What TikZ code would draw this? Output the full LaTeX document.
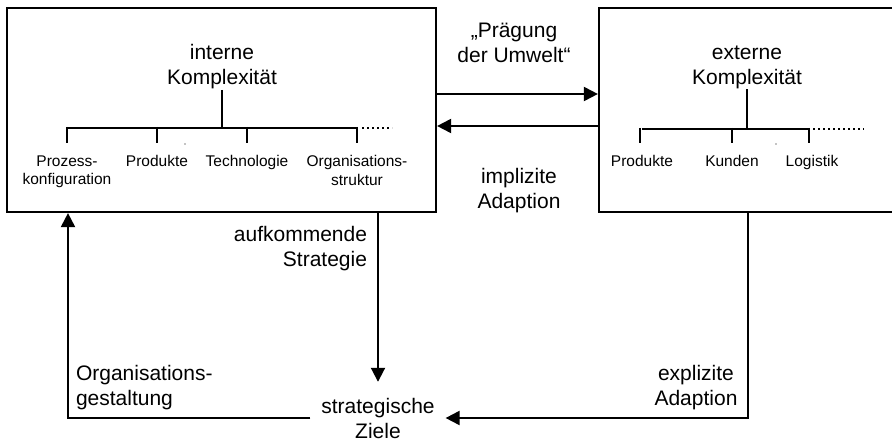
\documentclass[tikz,border=0pt]{standalone}
\usepackage{fontspec}
\setmainfont{Liberation Sans}
\usetikzlibrary{arrows.meta}

\begin{document}
\begin{tikzpicture}[x=1pt, y=-1pt,
  line width=2pt,
  bigtxt/.style={font=\fontsize{21}{25}\selectfont, inner sep=0pt, align=center},
  smalltxt/.style={font=\fontsize{15.5}{18.5}\selectfont, inner sep=0pt, align=center},
  box/.style={draw, line width=2.2pt, inner sep=0pt, minimum height=204pt},
  arr/.style={-{Triangle[length=14pt, width=14pt]}},
  tree/.style={line width=2pt},
  dots/.style={line width=2pt, dash pattern=on 2pt off 3pt},
]
\useasboundingbox (0,0) rectangle (892,441);

% the two boxes (the right one runs past the page edge)
\node[box, minimum width=429pt] (int) at (221.5,110) {};
\node[box, minimum width=302pt] (ext) at (750,110) {};

% headings
\node[bigtxt] (intl) at (222,66.5) {interne\\Komplexität};
\node[bigtxt] (extl) at (747,67) {externe\\Komplexität};

% internal components
\node[smalltxt] (proz) at (67,172) {Prozess-\\konfiguration};
\node[smalltxt, anchor=base] (prodi) at (157,167) {Produkte};
\node[smalltxt, anchor=base] (tech) at (247,167) {Technologie};
\node[smalltxt] (orgs) at (357,170.5) {Organisations-\\struktur};

% external components
\node[smalltxt, anchor=base] (prode) at (642,167) {Produkte};
\node[smalltxt, anchor=base] (kund) at (732,167) {Kunden};
\node[smalltxt, anchor=base] (logi) at (812,167) {Logistik};

% tree of the internal complexity
\draw[tree] (intl.south) -- (intl.south |- 0,128);
\draw[tree] (proz.north |- 0,128) -- (orgs.north |- 0,128);
\foreach \n in {proz, prodi, tech, orgs}
  \draw[tree] (\n.north |- 0,127) -- (\n.north |- 0,143);
\draw[dots] (362,128) -- (392,128);
\fill (185,144) circle (0.6pt);

% tree of the external complexity
\draw[tree] (extl.south) -- (extl.south |- 0,129);
\draw[tree] (prode.north |- 0,129) -- (809,129);
\foreach \x in {640, 732, 809}
  \draw[tree] (\x,128) -- (\x,143);
\draw[dots] (813,129) -- (864,129);
\fill (776,144) circle (0.6pt);

% exchange between the boxes
\draw[arr] (int.east |- 0,94) -- (ext.west |- 0,94);
\draw[arr] (ext.west |- 0,126) -- (int.east |- 0,126);
\node[bigtxt] (praeg) at (514,42.5) {„Prägung\\der Umwelt“};
\node[bigtxt] (impl) at (519,190.5) {implizite\\Adaption};

% strategic goals and the loop
\node[bigtxt, inner xsep=10pt, inner ysep=15pt] (ziele) at (378,418) {strategische\\Ziele};
\draw[arr] (int.south -| 378,0) -- (ziele.north);
\draw[arr] (ext.south -| 748,0) -- (748,418) -- (ziele.east);
\draw[arr] (ziele.west) -- (ziele.west -| 68,0) -- (int.south -| 68,0);

\node[bigtxt, align=right, anchor=east] (aufk) at (368,248.5) {aufkommende\\Strategie};
\node[bigtxt, align=left, anchor=west] (orgg) at (75,388) {Organisations-\\gestaltung};
\node[bigtxt] (expl) at (696,388) {explizite\\Adaption};
\end{tikzpicture}
\end{document}
